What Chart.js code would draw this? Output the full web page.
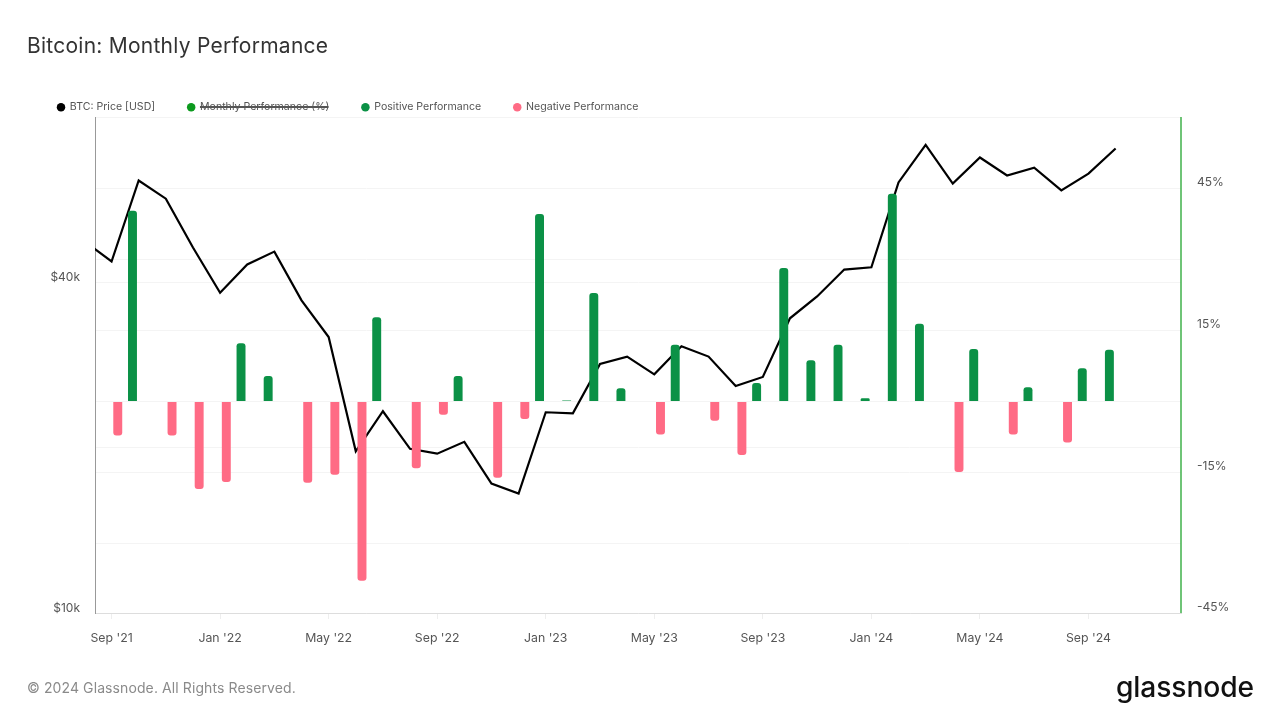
<!DOCTYPE html>
<html>
<head>
<meta charset="utf-8">
<title>Bitcoin: Monthly Performance</title>
<script src="https://cdn.jsdelivr.net/npm/chart.js@4"></script>
<style>
  body { margin: 0; background: #fff; font-family: Inter, sans-serif; }
  #wrap { position: relative; width: 1280px; height: 720px; overflow: hidden; }
  #usageChart { position: absolute; left: 0; top: 0; }
  #title { position: absolute; left: 27px; top: 33px; font-size: 21px; line-height: 26px; color: #333; letter-spacing: 0.25px; }
  #footer { position: absolute; left: 27px; top: 679px; font-size: 14px; line-height: 18px; color: #8a8a8a; letter-spacing: 0.1px; }
  #logo { position: absolute; left: 1116px; top: 668px; font-size: 28.2px; line-height: 38px; font-weight: 500; color: #111; letter-spacing: -0.1px; }
</style>
</head>
<body>
<div id="wrap">
  <canvas id="usageChart" width="1280" height="720"></canvas>
  <div id="title">Bitcoin: Monthly Performance</div>
  <div id="footer">© 2024 Glassnode. All Rights Reserved.</div>
  <div id="logo">glassnode</div>
</div>
<script>
// months counted from Sep '21, the first one is Aug '21 and gets clipped by the axis
const months = [-1, 0, 1, 2, 3, 4, 5, 6, 7, 8, 9, 10, 11, 12, 13, 14, 15, 16, 17, 18, 19, 20, 21, 22, 23, 24, 25, 26, 27, 28, 29, 30, 31, 32, 33, 34, 35, 36, 37];

const price = [47500, 43650, 61300, 56800, 46300, 38300, 43100, 45500, 37100, 31800, 19700, 23300, 19900, 19500, 20500, 17200, 16500, 23200, 23100, 28400, 29300, 27200, 30600, 29300, 25900, 26900, 34400, 37700, 42200, 42600, 60800, 71200, 60500, 67500, 62600, 64700, 58800, 63100, 70100];

const performance = [null, -7.2, 40.3, -7.2, -18.5, -17, 12.3, 5.4, -17.2, -15.5, -37.9, 17.8, -14.1, -2.8, 5.4, -16.1, -3.7, 39.6, 0.2, 22.9, 2.8, -7, 12, -4.1, -11.3, 3.9, 28.2, 8.7, 12, 0.7, 43.9, 16.4, -14.9, 11.1, -7, 3, -8.7, 7, 10.9];

const xTickMonths = [0, 4, 8, 12, 16, 20, 24, 28, 32, 36];
const xTickLabels = ["Sep '21", "Jan '22", "May '22", "Sep '22", "Jan '23", "May '23", "Sep '23", "Jan '24", "May '24", "Sep '24"];

const priceTicks = [10000, 20000, 40000, 80000];
const priceTickLabels = ['$10k', '', '$40k', ''];

const percentTicks = [-44.7, -30, -15, 0, 15, 30, 45];
const percentTickLabels = ['-45%', '', '-15%', '', '15%', '', '45%'];

const positive = performance.map(v => (v !== null && v > 0 ? v : null));
const negative = performance.map(v => (v !== null && v < 0 ? v : null));

function toPoints(values) {
    return months.map((m, i) => ({ x: m, y: values[i] }));
}

const tickFont = { family: 'Inter', size: 12 };
const tickColor = '#555';

// keeps the legend from pushing the plot area down too far
const legendHeight = {
    id: 'legendHeight',
    beforeInit(chart) {
        const fit = chart.legend.fit;
        chart.legend.fit = function () {
            fit.call(this);
            this.height = 47.5;
        };
    }
};

// green line on the right edge of the plot, the percent axis colour
const rightAxisLine = {
    id: 'rightAxisLine',
    afterDraw(chart) {
        const { ctx, chartArea } = chart;
        ctx.save();
        ctx.strokeStyle = '#3fb04a';
        ctx.lineWidth = 1.5;
        ctx.beginPath();
        ctx.moveTo(chartArea.right, chartArea.top);
        ctx.lineTo(chartArea.right, chartArea.bottom);
        ctx.stroke();
        ctx.restore();
    }
};

new Chart(document.getElementById('usageChart').getContext('2d'), {
    data: {
        datasets: [
            {
                type: 'line',
                label: 'BTC: Price [USD]',
                data: toPoints(price),
                yAxisID: 'y',
                borderColor: '#000',
                backgroundColor: '#000',
                borderWidth: 2.2,
                pointRadius: 0,
                tension: 0,
                order: 2
            },
            {
                type: 'line',
                label: 'Monthly Performance (%)',
                data: toPoints(performance),
                yAxisID: 'y1',
                hidden: true,
                borderColor: '#0c9a1e',
                backgroundColor: '#0c9a1e'
            },
            {
                type: 'bar',
                label: 'Positive Performance',
                data: toPoints(positive),
                yAxisID: 'y1',
                backgroundColor: '#0b9146',
                borderColor: '#0b9146',
                borderRadius: 3,
                categoryPercentage: 0.915,
                barPercentage: 0.72,
                order: 1
            },
            {
                type: 'bar',
                label: 'Negative Performance',
                data: toPoints(negative),
                yAxisID: 'y1',
                backgroundColor: '#ff6b85',
                borderColor: '#ff6b85',
                borderRadius: 3,
                categoryPercentage: 0.915,
                barPercentage: 0.72,
                order: 1
            }
        ]
    },
    plugins: [legendHeight, rightAxisLine],
    options: {
        responsive: false,
        animation: false,
        layout: { padding: { left: 25, top: 69.5, right: 0, bottom: 0 } },
        plugins: {
            tooltip: { enabled: false },
            title: { display: false },
            legend: {
                position: 'top',
                align: 'start',
                onClick: null,
                labels: {
                    usePointStyle: true,
                    pointStyle: 'circle',
                    boxWidth: 7,
                    boxHeight: 6,
                    padding: 32.5,
                    color: '#555',
                    font: { family: 'Inter', size: 10.6 },
                    sort: (a, b) => a.datasetIndex - b.datasetIndex,
                    generateLabels(chart) {
                        const items = Chart.defaults.plugins.legend.labels.generateLabels(chart);
                        items.forEach(item => { item.lineWidth = 0; });
                        return items;
                    }
                }
            }
        },
        scales: {
            x: {
                type: 'linear',
                min: -0.61,
                max: 39.41,
                offset: false,
                afterBuildTicks(scale) {
                    scale.ticks = xTickMonths.map(value => ({ value }));
                },
                afterFit(scale) {
                    scale.height = 107;
                },
                ticks: {
                    autoSkip: false,
                    maxRotation: 0,
                    padding: 12,
                    color: tickColor,
                    font: { family: 'Inter', size: 12.3 },
                    callback: value => xTickLabels[xTickMonths.indexOf(value)]
                },
                grid: { drawOnChartArea: false, offset: false, tickLength: 6, color: '#f0f0f0', tickColor: '#eeeeee' },
                border: { color: '#ddd' }
            },
            y: {
                type: 'logarithmic',
                position: 'left',
                min: 10000,
                max: 80000,
                afterBuildTicks(scale) {
                    scale.ticks = priceTicks.map(value => ({ value }));
                },
                afterFit(scale) {
                    scale.width = 70;
                },
                ticks: {
                    autoSkip: false,
                    padding: 15,
                    labelOffset: -5,
                    color: tickColor,
                    font: tickFont,
                    callback: value => priceTickLabels[priceTicks.indexOf(value)]
                },
                grid: { drawTicks: false, color: '#f4f4f4' },
                border: { color: '#999' }
            },
            y1: {
                type: 'linear',
                position: 'right',
                min: -44.7,
                max: 60.1,
                afterBuildTicks(scale) {
                    scale.ticks = percentTicks.map(value => ({ value }));
                },
                afterFit(scale) {
                    scale.width = 99;
                },
                ticks: {
                    autoSkip: false,
                    padding: 16,
                    labelOffset: -6,
                    color: tickColor,
                    font: tickFont,
                    callback: value => percentTickLabels[percentTicks.indexOf(value)]
                },
                grid: { drawTicks: false, color: '#f4f4f4' },
                border: { display: false }
            }
        }
    }
});
</script>
</body>
</html>
